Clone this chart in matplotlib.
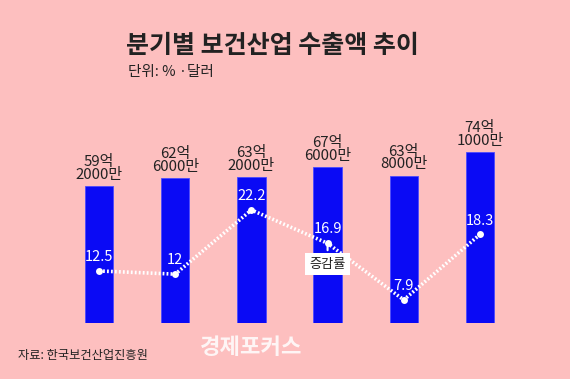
import numpy as np
import matplotlib.pyplot as plt

plt.rcParams['font.family'] = ['Noto Sans CJK KR', 'DejaVu Sans']

quarters = ['Q1', 'Q2', 'Q3', 'Q4', 'Q5', 'Q6']
exports = [59.2, 62.6, 63.2, 67.6, 63.8, 74.1]   # 억 달러
export_labels = ['59억\n2000만', '62억\n6000만', '63억\n2000만',
                 '67억\n6000만', '63억\n8000만', '74억\n1000만']
growth = [12.5, 12.0, 22.2, 16.9, 7.9, 18.3]
growth_labels = ['12.5', '12', '22.2', '16.9', '7.9', '18.3']

bg = '#fdbfbf'
blue = '#0a0af5'
W, H = 570, 379

fig = plt.figure(figsize=(W / 100, H / 100), dpi=100, facecolor=bg)
ax = fig.add_axes([61 / W, 56 / H, 457 / W, 231 / H])
ax.set_facecolor('none')
x = np.arange(len(quarters))
ax.bar(x, exports, width=0.37, color=blue, edgecolor='#4a4aff', linewidth=0.6)
ax.set_xlim(-0.5, 5.5)
ax.set_ylim(0, 100)
for xi, v, lab in zip(x, exports, export_labels):
    ax.annotate(lab, (xi, v), xytext=(0, 3), textcoords='offset points',
                ha='center', va='bottom', fontsize=10.8, color='#222222',
                linespacing=0.9)
ax.axis('off')

ax2 = ax.twinx()
ax2.set_ylim(4.23, 40.95)
ax2.plot(x, growth, color='white', lw=2.6, linestyle=(0, (0.5, 0.6)),
         marker='o', markersize=5, markeredgewidth=0)
for xi, v, lab in zip(x, growth, growth_labels):
    ax2.annotate(lab, (xi, v), xytext=(0, 5), textcoords='offset points',
                 ha='center', va='bottom', fontsize=10.5, color='white')
ax2.annotate('증감률', (x[3], growth[3]), xytext=(0, -15), textcoords='offset points',
             ha='center', va='center', fontsize=9.5, color='#222222',
             bbox=dict(boxstyle='square,pad=0.35', fc='white', ec='none'),
             arrowprops=dict(arrowstyle='-', color='white', lw=1.5))
ax2.axis('off')

fig.text(126 / W, 1 - 46 / H, '분기별 보건산업 수출액 추이', fontsize=18,
         fontweight='bold', color='#222222', ha='left', va='center')
fig.text(128 / W, 1 - 72 / H, '단위: % ·달러', fontsize=10.5,
         color='#222222', ha='left', va='center')
fig.text(18 / W, 1 - 356 / H, '자료: 한국보건산업진흥원', fontsize=8.8,
         color='#222222', ha='left', va='center')
fig.text(200 / W, 1 - 347 / H, '경제포커스', fontsize=16, fontweight='bold',
         color='white', alpha=0.85, ha='left', va='center')

fig.savefig('out.png', dpi=100, facecolor=bg)
